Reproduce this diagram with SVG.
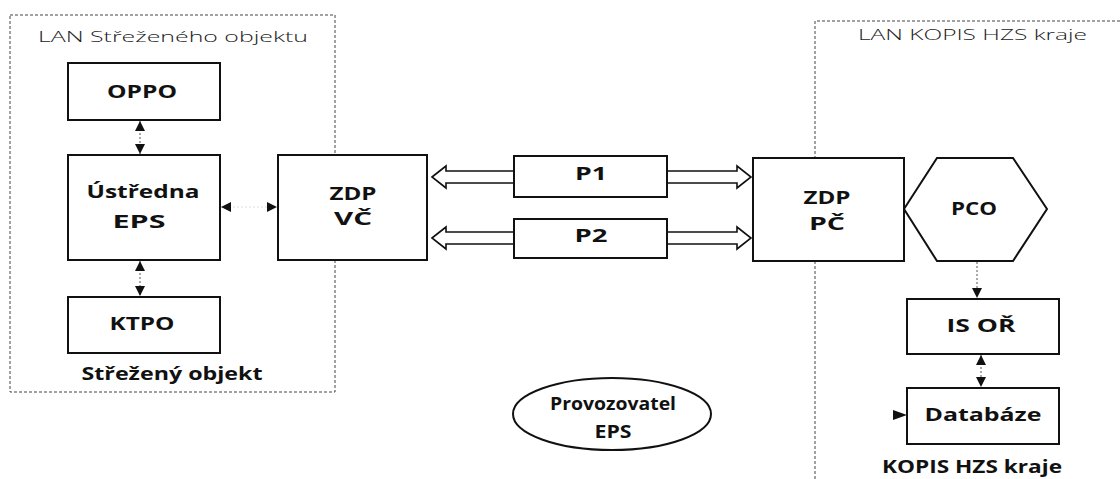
<svg xmlns="http://www.w3.org/2000/svg" width="1120" height="479" viewBox="0 0 1120 479">
<style>
.box{fill:#fff;stroke:#111;stroke-width:2}
.region{fill:none;stroke:#444;stroke-width:1;stroke-dasharray:3,2}
.t{font-family:"Open Sans","Liberation Sans",sans-serif;font-weight:700;font-size:17px;fill:#111;text-anchor:middle}
.lt{font-family:"Open Sans","Liberation Sans",sans-serif;font-weight:300;font-size:15px;fill:#222}
.conn{stroke:#555;stroke-width:1;stroke-dasharray:2,2;fill:none}
.blk{fill:#fff;stroke:#111;stroke-width:1.6;stroke-linejoin:miter}
.head{fill:#111}
</style>
<defs>
<marker id="tri" viewBox="0 0 10 10" refX="10" refY="5" markerWidth="10" markerHeight="10" markerUnits="userSpaceOnUse" orient="auto-start-reverse">
<path d="M0,0 L10,5 L0,10 Z" fill="#111"/>
</marker>
</defs>

<g id="region-strezeny">
<rect class="region" x="10" y="15" width="325" height="377"/>
<text class="lt" x="38" y="42" textLength="270" lengthAdjust="spacingAndGlyphs">LAN Střeženého objektu</text>
<text class="t" x="172" y="380" textLength="181" lengthAdjust="spacingAndGlyphs">Střežený objekt</text>
</g>

<g id="region-kopis">
<path class="region" d="M815,479 V21 H1120"/>
<text class="lt" x="858" y="40" textLength="229" lengthAdjust="spacingAndGlyphs">LAN KOPIS HZS kraje</text>
<text class="t" x="972" y="473" textLength="180" lengthAdjust="spacingAndGlyphs">KOPIS HZS kraje</text>
</g>

<g id="connectors">
<line class="conn" x1="140" y1="121" x2="140" y2="154" marker-start="url(#tri)" marker-end="url(#tri)"/>
<line class="conn" x1="140" y1="261" x2="140" y2="296" marker-start="url(#tri)" marker-end="url(#tri)"/>
<line class="conn" x1="221" y1="207" x2="277" y2="207" marker-start="url(#tri)" marker-end="url(#tri)" stroke-opacity="0.2"/>
<line class="conn" x1="977" y1="262" x2="977" y2="298" marker-end="url(#tri)"/>
<line class="conn" x1="981" y1="355" x2="981" y2="387" marker-start="url(#tri)" marker-end="url(#tri)"/>
<polygon class="head" points="893,410 907,415 893,420"/>
<g id="p1-arrow">
<polygon class="blk" points="432,177 446,166 446,171 737,171 737,166 751,177 737,188 737,183 446,183 446,188"/>
</g>
<g id="p2-arrow">
<polygon class="blk" points="432,238 446,227 446,232 737,232 737,227 751,238 737,249 737,244 446,244 446,249"/>
</g>
</g>

<g id="oppo">
<rect class="box" x="68" y="63" width="152" height="57"/>
<text class="t" x="142" y="98" textLength="70" lengthAdjust="spacingAndGlyphs">OPPO</text>
</g>
<g id="ustredna-eps">
<rect class="box" x="68" y="155" width="152" height="105"/>
<text class="t" x="143" y="198" textLength="113" lengthAdjust="spacingAndGlyphs">Ústředna</text>
<text class="t" x="139" y="228" textLength="53" lengthAdjust="spacingAndGlyphs">EPS</text>
</g>
<g id="ktpo">
<rect class="box" x="68" y="297" width="152" height="56"/>
<text class="t" x="142" y="330" textLength="65" lengthAdjust="spacingAndGlyphs">KTPO</text>
</g>
<g id="zdp-vc">
<rect class="box" x="278" y="155" width="149" height="105"/>
<text class="t" x="353" y="200" textLength="47" lengthAdjust="spacingAndGlyphs">ZDP</text>
<text class="t" x="353" y="225" textLength="38" lengthAdjust="spacingAndGlyphs">VČ</text>
</g>
<g id="p1">
<rect class="box" x="514" y="156" width="153" height="41"/>
<text class="t" x="591" y="180" textLength="32" lengthAdjust="spacingAndGlyphs">P1</text>
</g>
<g id="p2">
<rect class="box" x="514" y="219" width="153" height="39"/>
<text class="t" x="591" y="242" textLength="33" lengthAdjust="spacingAndGlyphs">P2</text>
</g>
<g id="zdp-pc">
<rect class="box" x="753" y="158" width="151" height="103"/>
<text class="t" x="827" y="204" textLength="47" lengthAdjust="spacingAndGlyphs">ZDP</text>
<text class="t" x="827" y="230" textLength="36" lengthAdjust="spacingAndGlyphs">PČ</text>
</g>
<g id="pco">
<polygon class="box" points="904,209 937,158 1013,158 1047,209 1013,261 937,261"/>
<text class="t" x="974" y="215" textLength="46" lengthAdjust="spacingAndGlyphs">PCO</text>
</g>
<g id="is-or">
<rect class="box" x="907" y="299" width="152" height="55"/>
<text class="t" x="981" y="332" textLength="69" lengthAdjust="spacingAndGlyphs">IS OŘ</text>
</g>
<g id="databaze">
<rect class="box" x="907" y="388" width="152" height="56"/>
<text class="t" x="983" y="421" textLength="117" lengthAdjust="spacingAndGlyphs">Databáze</text>
</g>
<g id="provozovatel">
<ellipse class="box" cx="612" cy="414" rx="99" ry="36" stroke-width="1.5"/>
<text class="t" x="613" y="410" textLength="126" lengthAdjust="spacingAndGlyphs">Provozovatel</text>
<text class="t" x="613" y="438" textLength="37" lengthAdjust="spacingAndGlyphs">EPS</text>
</g>
</svg>
